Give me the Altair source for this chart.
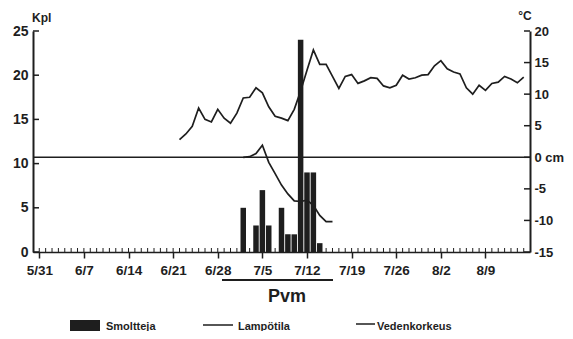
import altair as alt
import pandas as pd

# ---- data ----
week_labels = ["5/31", "6/7", "6/14", "6/21", "6/28", "7/5", "7/12", "7/19", "7/26", "8/2", "8/9"]
week_days = [0, 7, 14, 21, 28, 35, 42, 49, 56, 63, 70]
all_days = list(range(0, 77))

smolt_days = [32, 34, 35, 36, 38, 39, 40, 41, 42, 43, 44]
smolt_counts = [5, 3, 7, 3, 5, 2, 2, 24, 9, 9, 1]

temp_days = list(range(22, 77))
temp_values = [2.8, 3.7, 4.9, 7.8, 6.0, 5.6, 7.6, 6.2, 5.4, 7.0,
               9.4, 9.5, 11.0, 10.2, 8.0, 6.5, 6.2, 5.8, 7.6, 10.5,
               13.8, 17.0, 14.7, 14.7, 12.8, 10.9, 12.8, 13.1, 11.7, 12.1,
               12.6, 12.5, 11.3, 11.0, 11.4, 13.0, 12.4, 12.6, 13.0, 13.1,
               14.5, 15.3, 14.0, 13.5, 13.2, 11.0, 10.0, 11.4, 10.6, 11.7,
               11.9, 12.8, 12.4, 11.8, 12.7]

level_days = list(range(32, 47))
level_values = [0.0, 0.1, 0.6, 1.9, -0.8, -2.6, -4.4, -5.8, -6.9, -7.0,
                -6.8, -7.6, -9.2, -10.2, -10.2]

count_ticks = [0, 5, 10, 15, 20, 25]
temp_ticks = [-15, -10, -5, 0, 5, 10, 15, 20]

# ---- style ----
W, H = 497, 221
INK = "#1e1e1e"
FONT = "Liberation Sans"

smolt_df = pd.DataFrame({"day": smolt_days, "count": smolt_counts})
temp_df = pd.DataFrame({"day": temp_days, "temp": temp_values})
level_df = pd.DataFrame({"day": level_days, "level": level_values})
minor_df = pd.DataFrame({"day": all_days})
lt_df = pd.DataFrame({"v": count_ticks})
rt_df = pd.DataFrame({"v": temp_ticks})
zero_df = pd.DataFrame({"v": [0]})
one = pd.DataFrame({"a": [0]})

xscale = alt.Scale(domain=[-0.2, 76.2], nice=False, zero=False)
yl = alt.Scale(domain=[0, 25], nice=False)
yr = alt.Scale(domain=[-15, 20], nice=False)

label_expr = "[" + ",".join(f"'{l}'" for l in week_labels) + "][round(datum.value / 7)]"

x_axis = alt.Axis(values=week_days, labelExpr=label_expr, tickSize=6, tickWidth=1.5,
                  tickColor=INK, domainColor=INK, domainWidth=1.5, labelFont=FONT,
                  labelFontSize=13.5, labelFontWeight="bold", labelColor=INK,
                  labelPadding=5, grid=False, title=None)
left_axis = alt.Axis(values=count_ticks, orient="left", tickSize=0, domainColor=INK,
                     domainWidth=2, labelFont=FONT, labelFontSize=14,
                     labelFontWeight="bold", labelColor=INK, labelPadding=5,
                     grid=False, title=None)
right_axis = alt.Axis(values=temp_ticks, orient="right", tickSize=0, domainColor=INK,
                      domainWidth=2, labelFont=FONT, labelFontSize=13,
                      labelFontWeight="bold", labelColor=INK, labelPadding=4,
                      grid=False, title=None,
                      labelExpr="datum.value == 0 ? '0 cm' : toString(datum.value)")


def xenc():
    return alt.X("day:Q", scale=xscale, axis=x_axis)


bars = alt.Chart(smolt_df).mark_bar(size=5.5, color=INK).encode(
    x=xenc(),
    y=alt.Y("count:Q", scale=yl, axis=left_axis),
)
temp = alt.Chart(temp_df).mark_line(color=INK, strokeWidth=1.7).encode(
    x=xenc(),
    y=alt.Y("temp:Q", scale=yr, axis=right_axis),
)
minor = alt.Chart(minor_df).mark_rule(color=INK, strokeWidth=1).encode(
    x=xenc(),
    y=alt.value(H - 4), y2=alt.value(H),
)
lticks = alt.Chart(lt_df).mark_rule(color=INK, strokeWidth=1.5).encode(
    x=alt.value(0), x2=alt.value(6),
    y=alt.Y("v:Q", scale=yl, axis=None),
)
zero = alt.Chart(zero_df).mark_rule(color=INK, strokeWidth=1.5).encode(
    y=alt.Y("v:Q", scale=yr, axis=None))
level = alt.Chart(level_df).mark_line(color=INK, strokeWidth=1.7).encode(
    x=xenc(),
    y=alt.Y("level:Q", scale=yr, axis=None),
)
rticks = alt.Chart(rt_df).mark_rule(color=INK, strokeWidth=1.5).encode(
    x=alt.value(W - 6), x2=alt.value(W),
    y=alt.Y("v:Q", scale=yr, axis=None),
)


def txt(s, x, y, size=11, align="left", weight="bold"):
    return alt.Chart(one).mark_text(
        align=align, baseline="alphabetic", font=FONT, fontSize=size,
        fontWeight=weight, color=INK
    ).encode(x=alt.value(x), y=alt.value(y), text=alt.value(s))


def seg(x1, x2, y, w=1.5):
    return alt.Chart(one).mark_rule(color=INK, strokeWidth=w).encode(
        x=alt.value(x1), x2=alt.value(x2), y=alt.value(y))


legend_box = alt.Chart(one).mark_rect(color=INK).encode(
    x=alt.value(37), x2=alt.value(67), y=alt.value(289), y2=alt.value(300))

annotations = [
    txt("Kpl", -1, -9, size=12),
    txt("°C", 492, -11, size=12, align="center"),
    seg(189, 300, 249, w=2),
    txt("Pvm", 254, 271, size=18, align="center"),
    legend_box,
    txt("Smoltteja", 73, 299),
    seg(170, 200, 294),
    txt("Lampötila", 205, 299),
    seg(323, 342, 293),
    txt("Vedenkorkeus", 344, 299),
]

chart = alt.layer(bars, temp, zero, level, minor, lticks, rticks, *annotations).resolve_scale(
    y="independent"
).properties(
    width=W, height=H,
    autosize=alt.AutoSizeParams(type="none"),
    padding={"left": 25, "top": 23, "right": 35, "bottom": 79},
).configure_view(stroke=None)

chart.save("out.html", embed_options={"renderer": "svg", "actions": False})
